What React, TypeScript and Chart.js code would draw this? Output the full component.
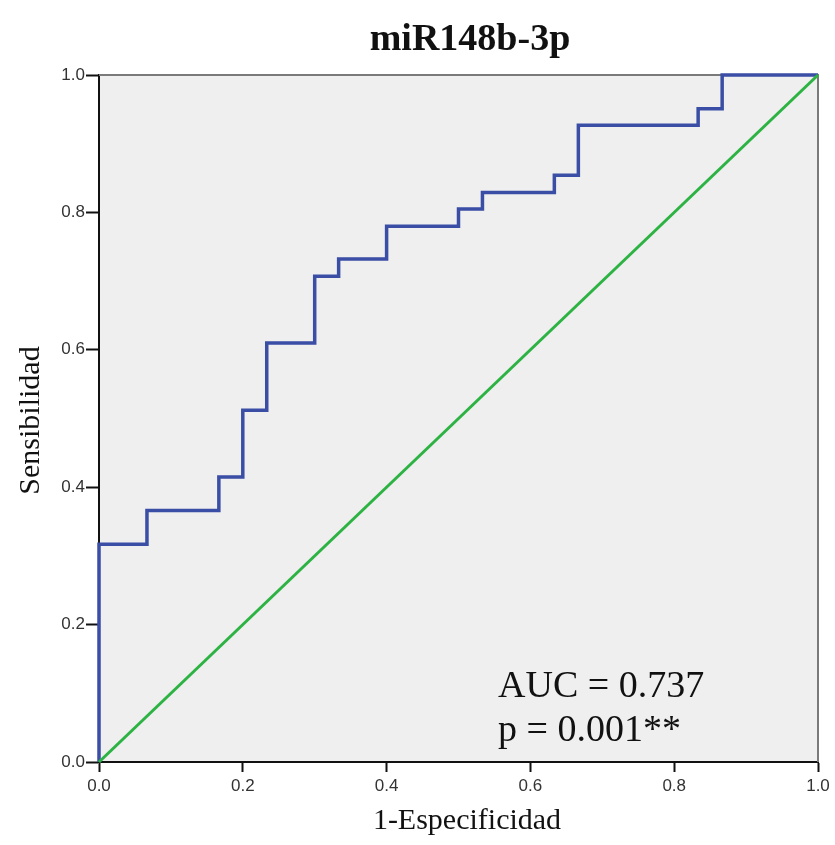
import React, { useEffect, useRef } from "react";
import { Chart, registerables } from "chart.js";

Chart.register(...registerables);

// ROC curve corner points (1-Specificity, Sensitivity)
const fpr = [0, 0, 0.0667, 0.0667, 0.1667, 0.1667, 0.2, 0.2, 0.2333, 0.2333, 0.3, 0.3, 0.3333, 0.3333, 0.4, 0.4, 0.5, 0.5, 0.5333, 0.5333, 0.6333, 0.6333, 0.6667, 0.6667, 0.8333, 0.8333, 0.8667, 0.8667, 1];
const tpr = [0, 0.317, 0.317, 0.366, 0.366, 0.415, 0.415, 0.512, 0.512, 0.61, 0.61, 0.707, 0.707, 0.732, 0.732, 0.78, 0.78, 0.805, 0.805, 0.829, 0.829, 0.854, 0.854, 0.927, 0.927, 0.951, 0.951, 1, 1];
// Reference diagonal
const refX = [0, 1];
const refY = [0, 1];

const titleText = "miR148b-3p";
const xTitle = "1-Especificidad";
const yTitle = "Sensibilidad";
const aucText = "AUC = 0.737";
const pText = "p = 0.001**";
const tickValues = [0, 0.2, 0.4, 0.6, 0.8, 1.0];

const SERIF = '"Liberation Serif", "Times New Roman", serif';
const TICK_FONT = '"Liberation Sans", Arial, sans-serif';

export default function App() {
  const ref = useRef<HTMLCanvasElement | null>(null);

  useEffect(() => {
    if (!ref.current) return;

    const decor = {
      id: "decor",
      beforeDraw(chart: any) {
        const { ctx, chartArea: a } = chart;
        ctx.save();
        ctx.fillStyle = "#ffffff";
        ctx.fillRect(0, 0, chart.width, chart.height);
        ctx.fillStyle = "#efefef";
        ctx.fillRect(a.left, a.top, a.right - a.left, a.bottom - a.top);
        ctx.restore();
      },
      beforeDatasetsDraw(chart: any) {
        const { ctx, chartArea: a } = chart;
        ctx.save();
        ctx.strokeStyle = "#7a7a7a";
        ctx.lineWidth = 2;
        ctx.beginPath();
        ctx.moveTo(a.left, a.top);
        ctx.lineTo(a.right, a.top);
        ctx.lineTo(a.right, a.bottom);
        ctx.stroke();
        ctx.restore();
      },
      afterDraw(chart: any) {
        const { ctx, chartArea: a } = chart;
        ctx.save();
        ctx.fillStyle = "#111111";
        // Title
        ctx.font = `bold 38px ${SERIF}`;
        ctx.textAlign = "center";
        ctx.textBaseline = "alphabetic";
        ctx.fillText(titleText, 470, 50);
        // X axis title
        ctx.font = `30px ${SERIF}`;
        ctx.fillText(xTitle, 467, 829);
        // Y axis title
        ctx.save();
        ctx.translate(39, (a.top + a.bottom) / 2 + 2);
        ctx.rotate(-Math.PI / 2);
        ctx.textBaseline = "alphabetic";
        ctx.fillText(yTitle, 0, 0);
        ctx.restore();
        // Annotation
        ctx.font = `38px ${SERIF}`;
        ctx.textAlign = "left";
        ctx.fillText(aucText, 498, 697);
        ctx.fillText(pText, 498, 741);
        ctx.restore();
      },
    };

    const chart = new Chart(ref.current, {
      type: "scatter",
      data: {
        datasets: [
          {
            label: "Referencia",
            data: refX.map((x, i) => ({ x, y: refY[i] })),
            showLine: true,
            borderColor: "#2db343",
            borderWidth: 3,
            pointRadius: 0,
            clip: false as any,
          },
          {
            label: "miR148b-3p",
            data: fpr.map((x, i) => ({ x, y: tpr[i] })),
            showLine: true,
            borderColor: "#3b4ea6",
            borderWidth: 3.5,
            pointRadius: 0,
            borderJoinStyle: "miter",
            clip: false as any,
          },
        ],
      },
      options: {
        animation: false,
        responsive: false,
        maintainAspectRatio: false,
        layout: { padding: { top: 75, right: 17, left: 0, bottom: 0 } },
        plugins: {
          legend: { display: false },
          tooltip: { enabled: false },
          title: { display: false },
        },
        scales: {
          x: {
            type: "linear",
            min: 0,
            max: 1,
            afterFit: (s: any) => {
              s.height = 83;
            },
            afterBuildTicks: (s: any) => {
              s.ticks = tickValues.map((v) => ({ value: v }));
            },
            ticks: {
              callback: (v: any) => Number(v).toFixed(1),
              font: { family: TICK_FONT, size: 17 },
              color: "#333333",
              padding: 4,
              maxRotation: 0,
            },
            grid: {
              drawOnChartArea: false,
              drawTicks: true,
              tickLength: 10,
              tickColor: "#111111",
              tickWidth: 2,
            },
            border: { display: true, color: "#111111", width: 2 },
          },
          y: {
            type: "linear",
            min: 0,
            max: 1,
            afterFit: (s: any) => {
              s.width = 99;
            },
            afterBuildTicks: (s: any) => {
              s.ticks = tickValues.map((v) => ({ value: v }));
            },
            ticks: {
              callback: (v: any) => Number(v).toFixed(1),
              font: { family: TICK_FONT, size: 17 },
              color: "#333333",
              padding: 1,
            },
            grid: {
              drawOnChartArea: false,
              drawTicks: true,
              tickLength: 13,
              tickColor: "#111111",
              tickWidth: 2,
            },
            border: { display: true, color: "#111111", width: 2 },
          },
        },
      },
      plugins: [decor],
    });

    return () => chart.destroy();
  }, []);

  return (
    <div style={{ position: "fixed", left: 0, top: 0, width: 835, height: 845, background: "#fff" }}>
      <canvas ref={ref} width={835} height={845} style={{ display: "block", width: 835, height: 845 }} />
    </div>
  );
}
